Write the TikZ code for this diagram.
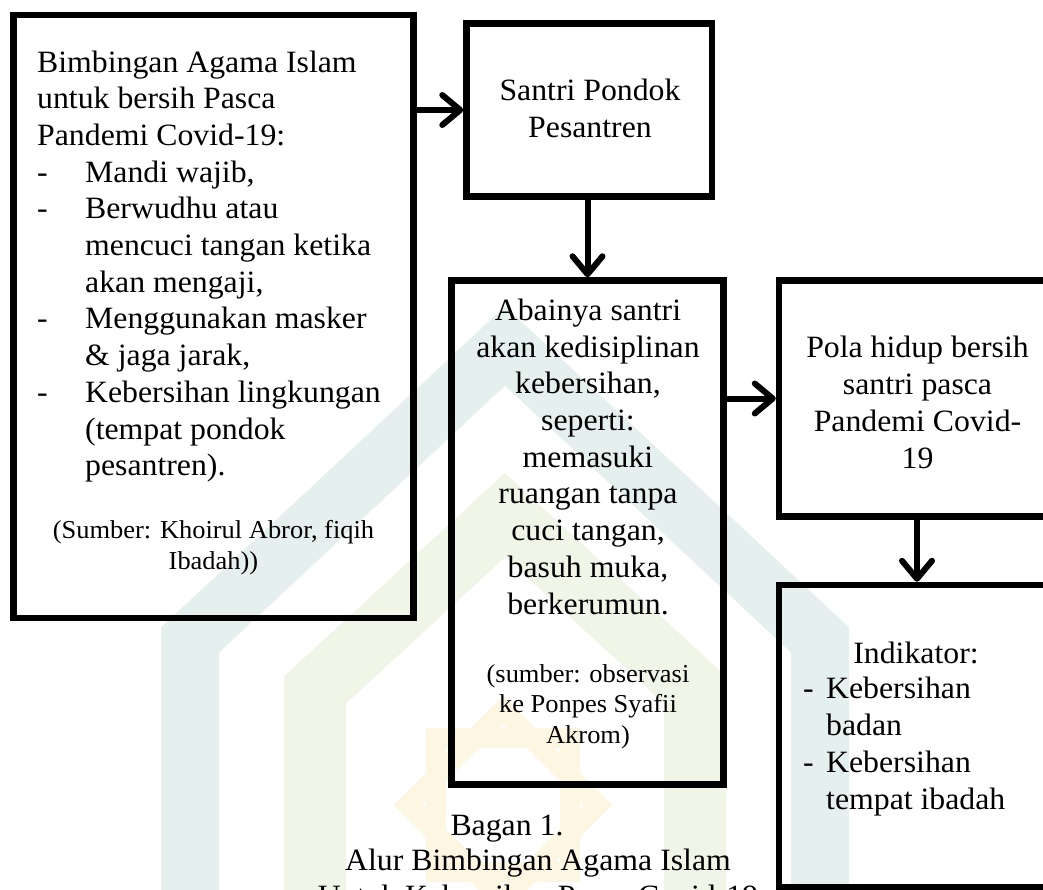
\documentclass[tikz,border=0pt]{standalone}
\usepackage{fontspec}
\setmainfont{Liberation Serif}[FakeStretch=1.025]
\usetikzlibrary{arrows.meta,positioning}

\definecolor{wmteal}{RGB}{229,239,237}
\definecolor{wmgreen}{RGB}{240,245,231}
\definecolor{wmgold}{RGB}{253,246,226}

\newcommand{\bodyfont}{\fontsize{31}{36.7}\selectfont}
\newcommand{\srcfont}{\fontsize{25.8}{30.5}\selectfont}
\newcommand{\itm}[1][48pt]{\makebox[#1][l]{-}}
\newcommand{\ind}[1][48pt]{\makebox[#1]{}}

\tikzset{
  box/.style={draw, line width=6.5pt, inner sep=0pt},
  body/.style={font=\bodyfont, inner sep=0pt},
  src/.style={font=\srcfont, inner sep=0pt, align=center, anchor=base},
  arr/.style={line width=6pt, -{Straight Barb[length=18pt,width=30pt,round]}}
}

\begin{document}
\begin{tikzpicture}[x=1pt,y=-1pt]
\useasboundingbox (0,0) rectangle (1043,889);
\clip (0,0) rectangle (1043,889);
% watermark
\draw [wmteal, line width=58pt, line join=miter] (190,900) -- (190,640) -- (505,346) -- (820,640) -- (820,900);
\draw [wmgreen, line width=62pt, line join=miter] (315,900) -- (315,690) -- (505,515) -- (695,690) -- (695,900);
\draw [wmgold, line width=20pt, line join=miter] (503,805) +(90:95) -- +(0:95) -- +(-90:95) -- +(180:95) -- cycle;
\draw [wmgold, line width=20pt, line join=miter] (503,805) +(45:95) -- +(-45:95) -- +(-135:95) -- +(135:95) -- cycle;
% boxes
\node [box, minimum width=400pt, minimum height=603pt] (bimbingan) at (213.5,316.5) {};
\node [box, minimum width=245.5pt, minimum height=173pt] (santri) at (589.25,110) {};
\node [box, minimum width=272pt, minimum height=504pt] (abai) at (587.5,532.5) {};
\node [box, minimum width=276pt, minimum height=236pt] (pola) at (917,398.5) {};
\node [box, minimum width=276pt, minimum height=302pt] (indikator) at (917,736) {};
% texts (base = last line)
\node [body, align=left, anchor=base west] (tbimbingan) at (37,475.7) {Bimbingan Agama Islam\\untuk bersih Pasca\\Pandemi Covid-19:\\
\itm Mandi wajib,\\\itm Berwudhu atau\\\ind mencuci tangan ketika\\\ind akan mengaji,\\
\itm Menggunakan masker\\\ind \& jaga jarak,\\\itm Kebersihan lingkungan\\\ind (tempat pondok\\\ind pesantren).};
\node [src] (sbimbingan) at (213.5,569) {(Sumber: Khoirul Abror, fiqih\\Ibadah))};
\node [body, align=center, anchor=base] (tsantri) at (590,137) {Santri Pondok\\Pesantren};
\node [body, align=center, anchor=base] (tabai) at (588,614) {Abainya santri\\akan kedisiplinan\\kebersihan,\\seperti:\\memasuki\\ruangan tanpa\\cuci tangan,\\basuh muka,\\berkerumun.};
\node [src] (sabai) at (588,743) {(sumber: observasi\\ke Ponpes Syafii\\Akrom)};
\node [body, align=center, anchor=base] (tpola) at (917.5,468) {Pola hidup bersih\\santri pasca\\Pandemi Covid-\\19};
\node [body, anchor=base] (tind) at (916,663) {Indikator:};
\node [body, align=left, anchor=base west] (tindlist) at (803,809) {\itm[23pt]Kebersihan\\\ind[23pt]badan\\\itm[23pt]Kebersihan\\\ind[23pt]tempat ibadah};
\node [body, anchor=base] (bagan) at (507,835) {Bagan 1.};
\node [body, align=center, anchor=base] (alur) at (538,906.7) {Alur Bimbingan Agama Islam\\Untuk Kebersihan Pasca Covid-19};
% arrows
\draw [arr] (bimbingan.east |- santri.west) -- (santri.west);
\draw [arr] (santri.south -| abai.north) -- (abai.north);
\draw [arr] (abai.east |- pola.west) -- (pola.west);
\draw [arr] (pola.south) -- (indikator.north);
\end{tikzpicture}
\end{document}
